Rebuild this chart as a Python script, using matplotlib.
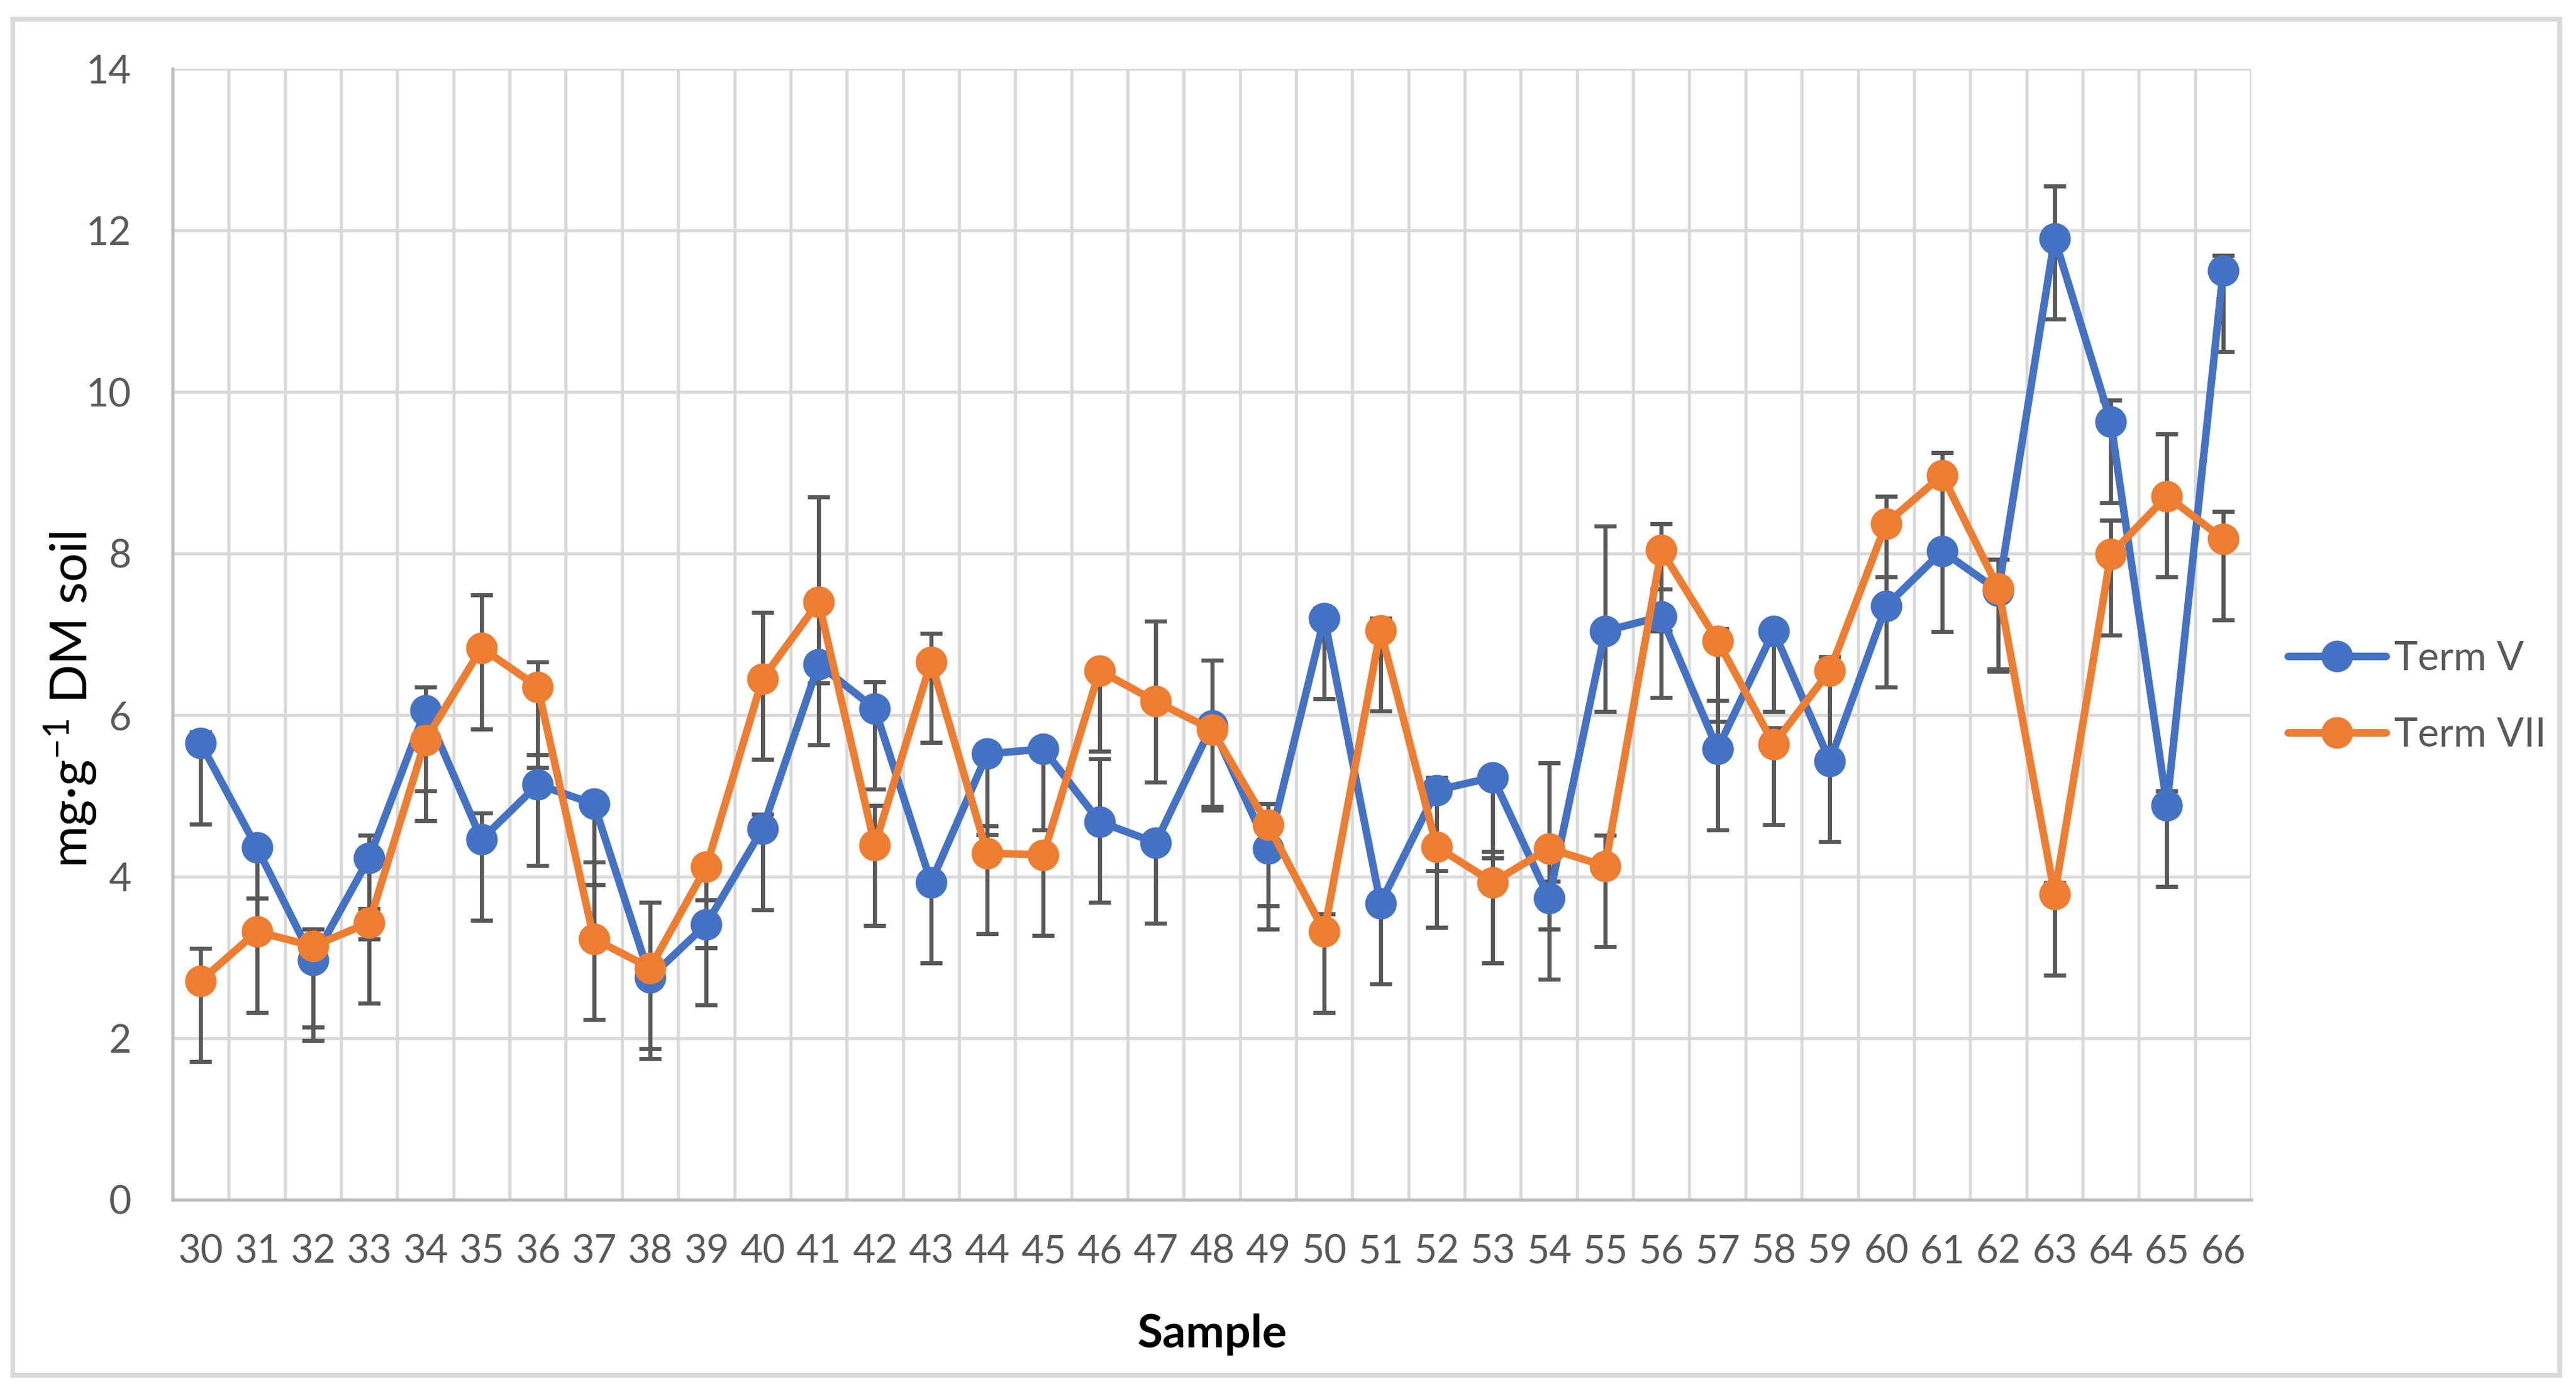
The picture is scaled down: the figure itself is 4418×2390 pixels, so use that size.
import matplotlib.pyplot as plt
from matplotlib.patches import Rectangle
import numpy as np

# --- dados ---
samples = list(range(30, 67))

term_v = [5.65, 4.36, 2.97, 4.23, 6.06, 4.46, 5.14, 4.90, 2.75, 3.41,
          4.59, 6.63, 6.08, 3.93, 5.52, 5.58, 4.68, 4.42, 5.87, 4.35,
          7.20, 3.67, 5.07, 5.23, 3.73, 7.04, 7.22, 5.58, 7.04, 5.43,
          7.35, 8.03, 7.54, 11.90, 9.63, 4.88, 11.50]
term_v_plus = [0.14, 0.10, 0.10, 0.28, 0.29, 0.33, 0.37, 0.10, 0.10, 0.30,
               0.18, 0.10, 0.33, 0.10, 0.10, 0.10, 0.78, 0.10, 0.81, 0.10,
               0.12, 0.10, 0.16, 0.10, 0.21, 1.30, 0.34, 0.60, 0.10, 0.10,
               0.36, 0.10, 0.10, 0.65, 0.27, 0.18, 0.19]

term_vii = [2.71, 3.32, 3.14, 3.43, 5.69, 6.83, 6.35, 3.23, 2.87, 4.12,
            6.45, 7.40, 4.39, 6.66, 4.29, 4.27, 6.55, 6.17, 5.82, 4.64,
            3.32, 7.05, 4.37, 3.93, 4.35, 4.13, 8.04, 6.92, 5.64, 6.55,
            8.37, 8.97, 7.57, 3.78, 7.99, 8.71, 8.18]
term_vii_plus = [0.40, 0.41, 0.21, 0.17, 0.10, 0.66, 0.31, 0.95, 0.81, 0.10,
                 0.82, 1.30, 0.49, 0.35, 0.34, 0.10, 0.10, 0.99, 0.10, 0.26,
                 0.22, 0.15, 0.10, 0.38, 1.06, 0.38, 0.33, 0.15, 0.20, 0.17,
                 0.34, 0.28, 0.36, 0.15, 0.42, 0.77, 0.34]

# erro inferior constante
minus_err = [1.0] * len(samples)

plt.rcParams['font.family'] = ['Lato', 'DejaVu Sans']
plt.rcParams['mathtext.fontset'] = 'custom'
plt.rcParams['mathtext.rm'] = 'Lato'
plt.rcParams['mathtext.it'] = 'Lato'

cor_azul = '#4472C4'
cor_laranja = '#ED7D31'
cor_texto = '#595959'

fig = plt.figure(figsize=(4418 / 300, 2390 / 300), dpi=300)
ax = fig.add_axes([296 / 4418, 1 - 2057 / 2390, (3861 - 296) / 4418, (2057 - 118) / 2390])

# barras de erro (abaixo das linhas)
for vals, plus in [(term_v, term_v_plus), (term_vii, term_vii_plus)]:
    ax.errorbar(samples, vals, yerr=[minus_err, plus], fmt='none',
                ecolor=cor_texto, elinewidth=1.7, capsize=4.6, capthick=1.7, zorder=2)

ax.plot(samples, term_v, color=cor_azul, lw=3.1, marker='o', ms=12,
        solid_capstyle='round', solid_joinstyle='round', label='Term V', zorder=3)
ax.plot(samples, term_vii, color=cor_laranja, lw=3.1, marker='o', ms=12,
        solid_capstyle='round', solid_joinstyle='round', label='Term VII', zorder=4)

ax.set_xlim(29.5, 66.5)
ax.set_ylim(0, 14)
ax.set_xticks(samples)
ax.set_xticks(np.arange(29.5, 67, 1), minor=True)
ax.set_yticks(range(0, 15, 2))
ax.tick_params(axis='both', which='both', length=0, labelsize=16, labelcolor=cor_texto)
ax.tick_params(axis='y', pad=17)
ax.tick_params(axis='x', pad=14)

ax.grid(True, axis='y', which='major', color='#D9D9D9', lw=1.3, zorder=0)
ax.grid(True, axis='x', which='minor', color='#D9D9D9', lw=1.3, zorder=0)
ax.set_axisbelow(True)

for s in ['top', 'right']:
    ax.spines[s].set_visible(False)
for s in ['left', 'bottom']:
    ax.spines[s].set_color('#BFBFBF')
    ax.spines[s].set_linewidth(1.3)

ax.set_xlabel('Sample', fontsize=19, fontweight='bold', color='black', labelpad=18)
fig.text(121 / 4418, 1 - 1200 / 2390, r'mg·g$^{-1}$ DM soil', rotation=90,
         ha='center', va='center', fontsize=21, color='black')

leg = fig.legend(loc='center left', bbox_to_anchor=(3862 / 4418, 1 - 1195 / 2390),
                 frameon=False, fontsize=16.5, handlelength=2.45, handletextpad=0.2,
                 labelspacing=1.0, labelcolor=cor_texto)

# borda do gráfico
fig.patches.append(Rectangle((22 / 4418, 1 - 2358 / 2390), (4390 - 22) / 4418,
                             (2358 - 33) / 2390, transform=fig.transFigure,
                             fill=False, edgecolor='#D9D9D9', lw=2))

plt.savefig('out.png', dpi=300)
